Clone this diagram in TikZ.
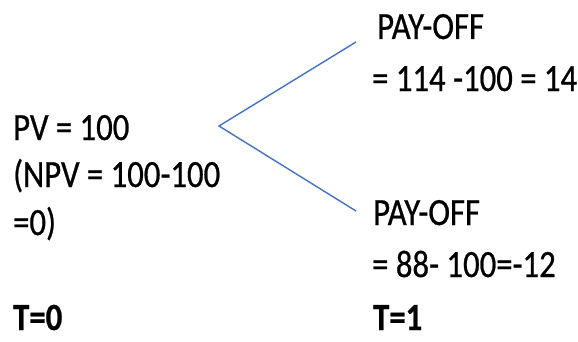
\documentclass[tikz,border=0pt]{standalone}
\usepackage{fontspec}
\setmainfont{Carlito}[FakeStretch=0.85,FakeBold=0.6]
\definecolor{linkblue}{HTML}{4472C4}
\tikzset{
  txt/.style={anchor=base west, inner sep=0pt, font=\fontsize{38.5}{44}\selectfont},
  bold/.style={txt, font=\fontsize{38.5}{44}\selectfont\bfseries},
  branch/.style={draw=linkblue, line width=1.4pt}
}
\begin{document}
\begin{tikzpicture}[x=1pt,y=1pt]
\useasboundingbox (0,0) rectangle (578,341);
% left block
\node[txt] (pv) at (13,201) {PV = 100};
\node[txt] (npv) at (13,154) {(NPV = 100-100};
\node[txt] (zero) at (13,106) {=0)};
% upper pay-off
\node[txt] (payA) at (377,302) {PAY-OFF};
\node[txt] (payAv) at (372,250) {= 114 -100 = 14};
% lower pay-off
\node[txt] (payB) at (373,116) {PAY-OFF};
\node[txt] (payBv) at (372,64) {= 88- 100=-12};
% times
\node[bold] (t0) at (13,11) {T=0};
\node[bold] (t1) at (373,11) {T=1};
% branches
\coordinate (root) at (219,215);
\coordinate (up) at (356,299);
\coordinate (down) at (356,130);
\draw[branch] (up) -- (root) -- (down);
\end{tikzpicture}
\end{document}
